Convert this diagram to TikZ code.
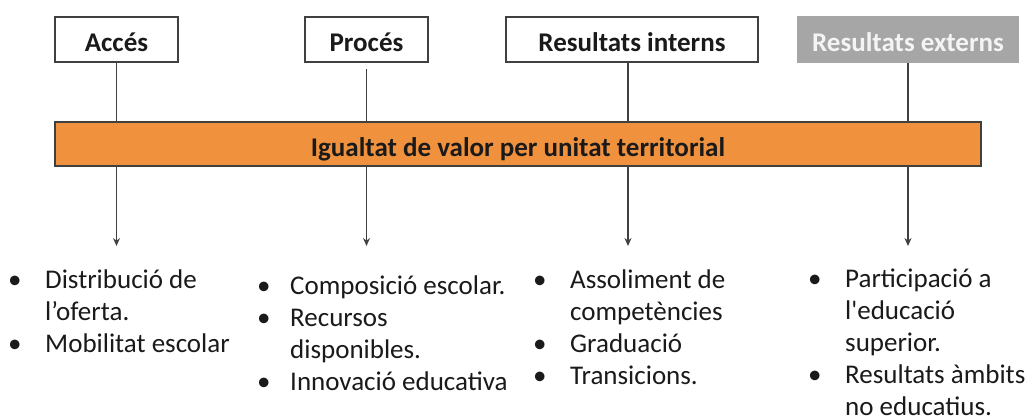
\documentclass[tikz,border=0pt]{standalone}
\usepackage{fontspec}
\setmainfont{Carlito}
\usetikzlibrary{arrows.meta}
\definecolor{barorange}{HTML}{F0913E}
\definecolor{edge}{HTML}{404040}
\definecolor{boxgray}{HTML}{A6A6A6}
\definecolor{lightt}{HTML}{F4F4F4}
\definecolor{ink}{HTML}{1A1A1A}
\begin{document}
\begin{tikzpicture}[x=1pt,y=-1pt,
  hdr/.style={draw=edge, line width=1.5pt, fill=white, minimum height=45pt, inner sep=0pt,
    font=\fontsize{27}{33}\selectfont\bfseries, text=ink, text height=24.4pt, text depth=0pt},
  hdrg/.style={hdr, fill=boxgray, draw=boxgray, text=lightt},
  barbox/.style={draw=edge, line width=1.5pt, fill=barorange, minimum height=44pt, minimum width=926pt,
    inner sep=0pt, font=\fontsize{27}{33}\selectfont\bfseries, text=ink, text height=24.4pt, text depth=0pt},
  link/.style={draw=edge, line width=1.5pt},
  arr/.style={link, -{Stealth[length=8pt,width=7pt]}},
  lst/.style={inner sep=0pt, anchor=base west, text=ink, font=\fontsize{27}{32}\selectfont},
]
\useasboundingbox[fill=white] (0,0) rectangle (1027,416);

\node[hdr, minimum width=123pt] (acc) at (116.5,39.5) {Accés};
\node[hdr, minimum width=123pt] (proc) at (366.5,39.5) {Procés};
\node[hdr, minimum width=252pt] (rint) at (632,39.5) {Resultats interns};
\node[hdrg, minimum width=220pt] (rext) at (908,39.5) {Resultats externs};

\node[barbox] (bar) at (518,144) {Igualtat de valor per unitat territorial};

\draw[link] (acc.south) -- (acc.south |- bar.north);
\draw[link, shorten <=6pt] (proc.south) -- (proc.south |- bar.north);
\draw[link] ([xshift=-4pt]rint.south) -- ([xshift=-4pt]rint.south |- bar.north);
\draw[link] (rext.south) -- (rext.south |- bar.north);

\coordinate (e1) at (116.5,246);
\coordinate (e2) at (366.5,246);
\coordinate (e3) at (628,246);
\coordinate (e4) at (908,246);
\draw[arr] (e1 |- bar.south) -- (e1);
\draw[arr] (e2 |- bar.south) -- (e2);
\draw[arr] (e3 |- bar.south) -- (e3);
\draw[arr] (e4 |- bar.south) -- (e4);

\node[lst] (l1) at (8,288) {\begin{tabular}[t]{@{}p{37pt}@{}l@{}}
\textbullet & Distribució de\\
 & l’oferta.\\
\textbullet & Mobilitat escolar
\end{tabular}};
\node[lst] (l2) at (257,294) {\begin{tabular}[t]{@{}p{33pt}@{}l@{}}
\textbullet & Composició escolar.\\
\textbullet & Recursos\\
 & disponibles.\\
\textbullet & Innovació educativa
\end{tabular}};
\node[lst] (l3) at (533,288) {\begin{tabular}[t]{@{}p{37pt}@{}l@{}}
\textbullet & Assoliment de\\
 & competències\\
\textbullet & Graduació\\
\textbullet & Transicions.
\end{tabular}};
\node[lst] (l4) at (808,287) {\begin{tabular}[t]{@{}p{37pt}@{}l@{}}
\textbullet & Participació a\\
 & l\textquotesingle educació\\
 & superior.\\
\textbullet & Resultats àmbits\\
 & no educatius.
\end{tabular}};
\end{tikzpicture}
\end{document}
